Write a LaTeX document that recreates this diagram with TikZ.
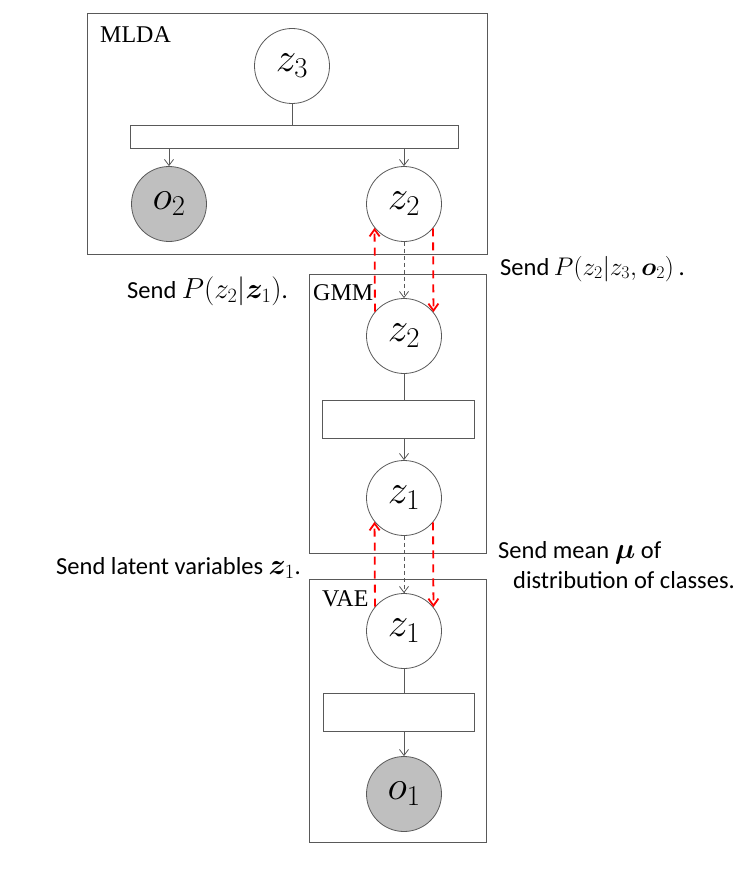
\RequirePackage{fix-cm}
\documentclass[tikz,border=0pt]{standalone}
\usepackage{bm}
\usepackage{fontspec}
\newfontfamily\calib{Carlito}
\newfontfamily\tnr{Liberation Serif}
\usetikzlibrary{arrows.meta}
\definecolor{lgray}{RGB}{89,89,89}
\definecolor{ofill}{RGB}{191,191,191}
\newcommand{\mathbig}{\fontsize{29}{32}\selectfont}
\newcommand{\mathmid}{\fontsize{25.5}{30}\selectfont}
\begin{document}
\begin{tikzpicture}[x=1pt,y=-1pt,
  plate/.style={draw=lgray, line width=0.9pt, inner sep=0pt, anchor=north west},
  var/.style={circle, draw=lgray, line width=0.8pt, minimum size=75pt, inner sep=0pt, fill=white, font=\fontsize{41}{48}\selectfont},
  obs/.style={var, fill=ofill},
  factor/.style={draw=lgray, line width=0.8pt, inner sep=0pt, fill=white},
  edge/.style={draw=lgray, line width=0.8pt},
  arr/.style={edge, -{Straight Barb[length=6pt,width=9pt]}},
  msg/.style={draw=lgray, line width=0.8pt, dash pattern=on 4pt off 3pt, -{Straight Barb[length=6pt,width=9pt]}},
  redmsg/.style={draw=red, line width=1.8pt, dash pattern=on 8pt off 6pt, -{Straight Barb[length=7pt,width=10pt]}},
  lbl/.style={font=\calib\fontsize{24.5}{29}\selectfont, anchor=base west, inner sep=0pt},
  platelbl/.style={font=\tnr\fontsize{24}{28}\selectfont, anchor=base west, inner sep=0pt}
]
\useasboundingbox (0,0) rectangle (737,869);

% plates
\node[plate, minimum width=400pt, minimum height=241pt] (mlda) at (87,13) {};
\node[plate, minimum width=177pt, minimum height=279pt] (gmm) at (309,274) {};
\node[plate, minimum width=177pt, minimum height=263pt] (vae) at (309,579) {};
\node[platelbl] (lmlda) at (100,43) {MLDA};
\node[platelbl] (lgmm) at (313,300) {GMM};
\node[platelbl] (lvae) at (322,606) {VAE};

% MLDA
\node[var] (z3) at (292,66) {$z_3$};
\node[factor, minimum width=328pt, minimum height=23pt] (f1) at (294,136.5) {};
\node[obs] (o2) at (169,204) {$o_2$};
\node[var] (z2a) at (404,204) {$z_2$};
\draw[edge] (z3.south) -- (z3.south |- f1.north);
\draw[arr] (o2.north |- f1.south) -- (o2.north);
\draw[arr] (z2a.north |- f1.south) -- (z2a.north);

% GMM
\node[var] (z2b) at (404,336) {$z_2$};
\node[factor, minimum width=152pt, minimum height=38pt] (f2) at (398,419) {};
\node[var] (z1b) at (404,498) {$z_1$};
\draw[edge] (z2b.south) -- (z2b.south |- f2.north);
\draw[arr] (z1b.north |- f2.south) -- (z1b.north);

% VAE
\node[var] (z1c) at (404,631) {$z_1$};
\node[factor, minimum width=151pt, minimum height=38pt] (f3) at (398.5,712) {};
\node[obs] (o1) at (404,794) {$o_1$};
\draw[edge] (z1c.south) -- (z1c.south |- f3.north);
\draw[arr] (o1.north |- f3.south) -- (o1.north);

% messages
\draw[msg] (z2a.south) -- (z2b.north);
\draw[msg] (z1b.south) -- (z1c.north);
\draw[redmsg] (z2b.140.6) -- (z2a.219.4);
\draw[redmsg] (z2a.320.6) -- (z2b.39.4);
\draw[redmsg] (z1c.140.6) -- (z1b.219.4);
\draw[redmsg] (z1b.320.6) -- (z1c.39.4);

% labels
\node[lbl] (t1) at (127,298) {Send {\mathbig$P(z_2|\bm{z}_1)$}.};
\node[lbl] (t2) at (500,275) {Send\hspace{-1pt} {\mathmid$P(z_2|z_3,\bm{o}_2)$}\hspace{-1pt} .};
\node[lbl] (t3) at (56,574) {Send latent variables {\mathbig$\bm{z}_1$}.};
\node[lbl] (t4) at (498,558) {Send mean {\mathbig$\bm{\mu}$} of};
\node[lbl] (t5) at (513,588) {distribution of classes.};
\end{tikzpicture}
\end{document}
